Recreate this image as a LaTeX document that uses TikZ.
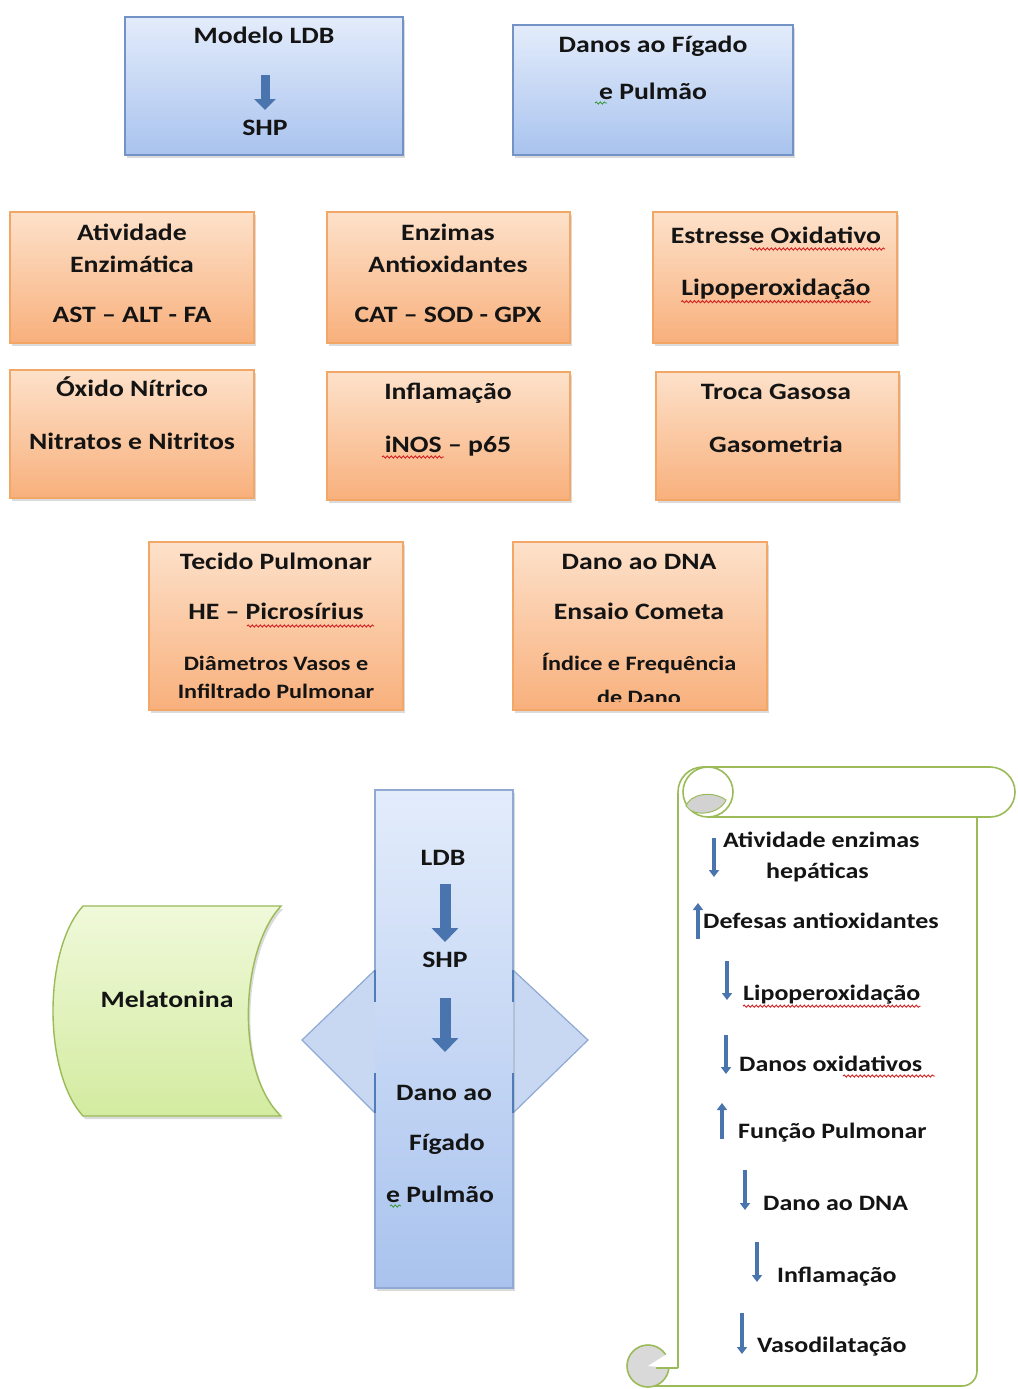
\documentclass[tikz,border=0pt]{standalone}
\usepackage{fontspec}
\setmainfont{Carlito}[FakeStretch=1.18]
\usetikzlibrary{shadows,arrows.meta,decorations.pathmorphing}
\definecolor{bluebd}{HTML}{7393C6}
\definecolor{bluebdl}{HTML}{8FA9D3}
\definecolor{bluedk}{HTML}{4F7BB8}
\definecolor{bluetop}{HTML}{E3ECFB}
\definecolor{bluebot}{HTML}{A9C3EE}
\definecolor{diamfill}{HTML}{C8D8F3}
\definecolor{orbd}{HTML}{F2A766}
\definecolor{ortop}{HTML}{FDE1CA}
\definecolor{orbot}{HTML}{F8B07C}
\definecolor{grbd}{HTML}{9BBB59}
\definecolor{grtop}{HTML}{F0F9DA}
\definecolor{grbot}{HTML}{D3EBA0}
\definecolor{arrowblue}{HTML}{4A74AD}
\definecolor{txtc}{HTML}{141414}
\definecolor{wavyred}{HTML}{D42020}
\definecolor{wavygreen}{HTML}{3C9A3C}
\tikzset{
  x=1pt, y=1pt,
  shad/.style={drop shadow={shadow xshift=2pt,shadow yshift=-3pt,opacity=0.28}},
  bluebox/.style={draw=bluebd, line width=1.2pt, top color=bluetop, bottom color=bluebot,
    shad, inner sep=0, outer sep=0, anchor=north west},
  orbox/.style={draw=orbd, line width=1.2pt, top color=ortop, bottom color=orbot,
    shad, inner sep=0, outer sep=0, anchor=north west},
  txt/.style={inner sep=0, text=txtc, text height=16pt, text depth=1pt,
    font=\bfseries\fontsize{23.5}{26}\selectfont},
  smalltxt/.style={inner sep=0, text=txtc, text height=14pt, text depth=1pt,
    font=\bfseries\fontsize{20.5}{22}\selectfont},
  scrolltxt/.style={inner sep=0, text=txtc, text height=15pt, text depth=1pt, anchor=west,
    font=\bfseries\fontsize{22}{24}\selectfont},
  bigarrow/.style={draw=arrowblue, line width=11pt, -{Triangle[width=26pt,length=14pt]}},
  medarrow/.style={draw=arrowblue, line width=9pt, -{Triangle[width=21pt,length=11pt]}},
  thinarrow/.style={draw=arrowblue, line width=4.5pt, -{Triangle[width=10pt,length=7pt]}},
  scroll/.style={draw=grbd, line width=1.6pt},
  wav/.style={wavyred, line width=0.9pt, decorate, decoration={snake, amplitude=1.1pt, segment length=4pt}},
  wavg/.style={wavygreen, line width=0.9pt, decorate, decoration={snake, amplitude=1.1pt, segment length=4pt}},
}
\begin{document}
\begin{tikzpicture}
\useasboundingbox (0,0) rectangle (1017,-1389);
\fill[white] (0,0) rectangle (1017,-1389);

% ---------- top blue boxes ----------
\node[bluebox, minimum width=278pt, minimum height=138pt] (modelo) at (125,-17) {};
\node[txt] (modelo1) at (264,-36) {Modelo LDB};
\node[txt] (modelo2) at (265,-128) {SHP};
\coordinate (ma1) at (265,-75);
\coordinate (ma2) at (265,-110);
\draw[medarrow] (ma1) -- (ma2);

\node[bluebox, minimum width=280pt, minimum height=130pt] (danos) at (513,-25) {};
\node[txt] (danos1) at (653,-45) {Danos ao Fígado};
\node[txt] (danos2) at (653,-92) {e Pulmão};
\draw[wavg] (595,-103) -- (607,-103);

% ---------- orange boxes ----------
\node[orbox, minimum width=244pt, minimum height=131pt] (ativ) at (10,-212) {};
\node[txt] (ativ1) at (132,-233) {Atividade};
\node[txt] (ativ2) at (132,-265) {Enzimática};
\node[txt] (ativ3) at (132,-315) {AST – ALT - FA};

\node[orbox, minimum width=243pt, minimum height=131pt] (enz) at (327,-212) {};
\node[txt] (enz1) at (448,-233) {Enzimas};
\node[txt] (enz2) at (448,-265) {Antioxidantes};
\node[txt] (enz3) at (448,-315) {CAT – SOD - GPX};

\node[orbox, minimum width=244pt, minimum height=131pt] (estr) at (653,-212) {};
\node[txt] (estr1) at (776,-236) {Estresse Oxidativo};
\node[txt] (estr2) at (776,-288) {Lipoperoxidação};
\draw[wav] (750,-249) -- (885,-249);
\draw[wav] ([yshift=-5pt]estr2.south west) -- ([yshift=-5pt]estr2.south east);

\node[orbox, minimum width=244pt, minimum height=128pt] (oxid) at (10,-370) {};
\node[txt] (oxid1) at (132,-389) {Óxido Nítrico};
\node[txt] (oxid2) at (132,-442) {Nitratos e Nitritos};

\node[orbox, minimum width=243pt, minimum height=128pt] (infl) at (327,-372) {};
\node[txt] (infl1) at (448,-392) {Inflamação};
\node[txt] (infl2) at (448,-445) {iNOS – p65};
\draw[wav] (382,-457) -- (444,-457);

\node[orbox, minimum width=243pt, minimum height=128pt] (troca) at (656,-372) {};
\node[txt] (troca1) at (776,-392) {Troca Gasosa};
\node[txt] (troca2) at (776,-445) {Gasometria};

\node[orbox, minimum width=254pt, minimum height=168pt] (tec) at (149,-542) {};
\node[txt] (tec1) at (276,-562) {Tecido Pulmonar};
\node[txt] (tec2) at (276,-612) {HE – Picrosírius};
\node[smalltxt] (tec3) at (276,-664) {Diâmetros Vasos e};
\node[smalltxt] (tec4) at (276,-692) {Infiltrado Pulmonar};
\draw[wav] (247,-626) -- (374,-626);

\node[orbox, minimum width=254pt, minimum height=168pt] (dna) at (513,-542) {};
\node[txt] (dna1) at (639,-562) {Dano ao DNA};
\node[txt] (dna2) at (639,-612) {Ensaio Cometa};
\node[smalltxt] (dna3) at (639,-664) {Índice e Frequência};
\begin{scope}
\clip (513,-542) rectangle (767,-701);
\node[smalltxt] (dna4) at (639,-698) {de Dano};
\end{scope}

% ---------- central figure ----------
\fill[diamfill] (375,-970) -- (302,-1040) -- (375,-1113) -- cycle;
\fill[diamfill] (513,-970) -- (588,-1040) -- (513,-1113) -- cycle;
\draw[bluebdl, line width=1.2pt] (375,-970) -- (302,-1040) -- (375,-1113);
\draw[bluebdl, line width=1.2pt] (513,-970) -- (588,-1040) -- (513,-1113);
\node[inner sep=0, outer sep=0, anchor=north west, minimum width=138pt, minimum height=498pt,
  top color=bluetop, bottom color=bluebot, shad] (crect) at (375,-790) {};
\draw[bluebdl, line width=1.2pt] (375,-970) -- (375,-790) -- (513,-790) -- (513,-970);
\draw[bluebdl, line width=1.2pt] (375,-1113) -- (375,-1288) -- (513,-1288) -- (513,-1113);
\draw[bluedk, line width=2.4pt] (375,-970) -- (375,-1002) (375,-1073) -- (375,-1113);
\draw[bluedk, line width=2.4pt] (513,-970) -- (513,-1002) (513,-1073) -- (513,-1113);

\node[txt] (c1) at (443,-858) {LDB};
\node[txt] (c2) at (445,-960) {SHP};
\node[txt] (c3) at (444,-1093) {Dano ao};
\node[txt] (c4) at (447,-1143) {Fígado};
\node[txt] (c5) at (440,-1195) {e Pulmão};
\draw[wavg] (390,-1206) -- (401,-1206);
\coordinate (ca1) at (445,-884);
\coordinate (ca2) at (445,-942);
\coordinate (ca3) at (445,-998);
\coordinate (ca4) at (445,-1052);
\draw[bigarrow] (ca1) -- (ca2);
\draw[bigarrow] (ca3) -- (ca4);

% ---------- Melatonina ----------
\path[draw=grbd, line width=1.4pt, top color=grtop, bottom color=grbot, shad]
  (83,-906) -- (281,-906) .. controls (240,-950) and (235,-1072) .. (281,-1116)
  -- (83,-1116) .. controls (43,-1072) and (43,-950) .. (83,-906) -- cycle;
\node[txt] (mel) at (167,-1000) {Melatonina};

% ---------- scroll ----------
\fill[white] (678,-792) rectangle (977,-1386);
\draw[scroll] (678,-792) -- (678,-1368);
\draw[scroll, rounded corners=15pt] (977,-817) -- (977,-1386) -- (650,-1386);
\draw[scroll, fill=white] (678,-792) arc[start angle=180, end angle=90, radius=25]
  -- (990,-767) arc[start angle=90, end angle=-90, radius=25] -- (708,-817);
\draw[scroll] (708,-817) arc[start angle=-90, end angle=270, radius=25];
\filldraw[draw=grbd, line width=1pt, fill=gray!35] (686,-806) .. controls (690,-794) and (712,-790) .. (726,-800)
  .. controls (720,-814) and (694,-818) .. (686,-806) -- cycle;
\draw[scroll, fill=gray!30] (648,-1366) circle (21);
\fill[white] (648,-1366) -- (670,-1352) -- (670,-1368) -- cycle;
\draw[scroll] (678,-1368) -- (656,-1368);

\node[scrolltxt] (s1) at (723,-840) {Atividade enzimas};
\node[scrolltxt] (s1b) at (766,-871) {hepáticas};
\node[scrolltxt] (s2) at (703,-921) {Defesas antioxidantes};
\node[scrolltxt] (s3) at (743,-993) {Lipoperoxidação};
\node[scrolltxt] (s4) at (739,-1064) {Danos oxidativos};
\node[scrolltxt] (s5) at (738,-1131) {Função Pulmonar};
\node[scrolltxt] (s6) at (763,-1203) {Dano ao DNA};
\node[scrolltxt] (s7) at (777,-1275) {Inflamação};
\node[scrolltxt] (s8) at (757,-1345) {Vasodilatação};
\draw[wav] ([yshift=-5pt]s3.south west) -- ([yshift=-5pt]s3.south east);
\draw[wav] (843,-1076) -- (935,-1076);

\coordinate (sa1) at (714,-838);  \coordinate (sb1) at (714,-877);
\coordinate (sa2) at (698,-939);  \coordinate (sb2) at (698,-903);
\coordinate (sa3) at (727,-961);  \coordinate (sb3) at (727,-1000);
\coordinate (sa4) at (726,-1035); \coordinate (sb4) at (726,-1074);
\coordinate (sa5) at (722,-1139); \coordinate (sb5) at (722,-1103);
\coordinate (sa6) at (745,-1170); \coordinate (sb6) at (745,-1210);
\coordinate (sa7) at (757,-1242); \coordinate (sb7) at (757,-1282);
\coordinate (sa8) at (742,-1313); \coordinate (sb8) at (742,-1354);
\foreach \i in {1,...,8} {\draw[thinarrow] (sa\i) -- (sb\i);}
\end{tikzpicture}
\end{document}
